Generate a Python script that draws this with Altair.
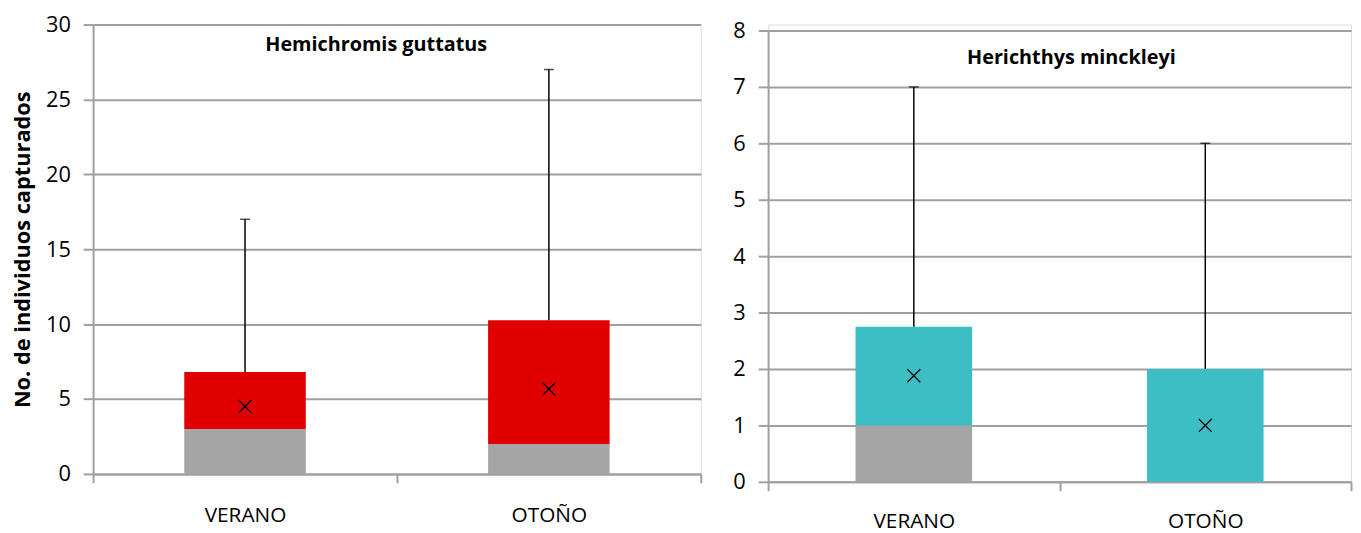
import altair as alt
import pandas as pd

seasons = ["VERANO", "OTOÑO"]

# Hemichromis guttatus
hg_low = [3.0, 2.0]
hg_q3 = [6.8, 10.25]
hg_mean = [4.5, 5.67]
hg_max = [17, 27]
hg_ticks = [0, 5, 10, 15, 20, 25, 30]

# Herichthys minckleyi
hm_low = [1.0, 0.0]
hm_q3 = [2.75, 2.0]
hm_mean = [1.88, 1.0]
hm_max = [7, 6]
hm_ticks = [0, 1, 2, 3, 4, 5, 6, 7, 8]

FONT = "Open Sans"
GRID = "#a0a0a0"
GRAYBAR = "#a5a5a5"
RED = "#e00000"
TEAL = "#3dbdc4"


def panel(title, low, q3, mean, mx, color, ymax, ticks, w, h, yrange, ytitle,
          tdx, tdy, xlabpad):
    df = pd.DataFrame({"season": seasons, "zero": [0, 0], "low": low,
                       "q3": q3, "mean": mean, "max": mx})
    x = alt.X("season:N", sort=seasons,
              scale=alt.Scale(paddingInner=0, paddingOuter=0),
              axis=alt.Axis(title=None, labelAngle=0, labelFont=FONT,
                            labelFontSize=21, labelColor="black",
                            labelPadding=xlabpad, tickBand="extent", tickSize=9,
                            tickColor=GRID, tickWidth=2, domainColor=GRID,
                            domainWidth=2, grid=False))
    yscale = alt.Scale(domain=[0, ymax], range=yrange, nice=False, zero=True)
    axis_kw = dict(values=ticks, labelFont=FONT, labelFontSize=22,
                   labelColor="black", labelPadding=13, tickSize=10,
                   tickColor=GRID, tickWidth=2, domainColor=GRID,
                   domainWidth=2, grid=True, gridColor=GRID, gridWidth=2,
                   titleFont=FONT, titleFontSize=22, titleFontWeight="bold",
                   titleColor="black", titlePadding=11)
    yaxis = alt.Axis(**axis_kw)

    def Y(field):
        return alt.Y(field, scale=yscale, axis=yaxis, title=ytitle)

    base = alt.Chart(df)
    bw = alt.RelativeBandSize(0.4)
    gray = base.mark_bar(color=GRAYBAR, width=bw).encode(
        x=x, y=Y("zero:Q"), y2="low:Q")
    box = base.mark_bar(color=color, width=bw).encode(
        x=x, y=Y("low:Q"), y2="q3:Q")
    whisk = base.mark_rule(color="black", strokeWidth=1.5).encode(
        x=x, y=Y("q3:Q"), y2="max:Q")
    cap = base.mark_tick(color="black", thickness=1.5, size=10).encode(
        x=x, y=Y("max:Q"))
    mk = base.mark_point(shape="M-1,-1L1,1M-1,1L1,-1", filled=False,
                         color="black", size=170, strokeWidth=1.3,
                         opacity=1).encode(x=x, y=Y("mean:Q"))
    return alt.layer(gray, box, whisk, cap, mk).properties(
        width=w, height=h,
        title=alt.TitleParams(text=title, font=FONT, fontSize=20,
                              fontWeight="bold", color="black",
                              anchor="middle", dx=tdx, dy=tdy))


left = panel("Hemichromis guttatus", hg_low, hg_q3, hg_mean, hg_max, RED,
             30, hg_ticks, 614, 454, [454, 0], "No. de individuos  capturados",
             -21, 46, 22)
right = panel("Herichthys minckleyi", hm_low, hm_q3, hm_mean, hm_max, TEAL,
              8, hm_ticks, 589, 462, [462, 6], None, 12, 53, 20)

chart = alt.hconcat(left, right, spacing=29).properties(
    padding={"left": 3, "top": 2, "right": 0, "bottom": 0}
).configure_view(strokeWidth=0).configure(background="white")

chart.save("out.html", embed_options={"renderer": "svg", "actions": False})
